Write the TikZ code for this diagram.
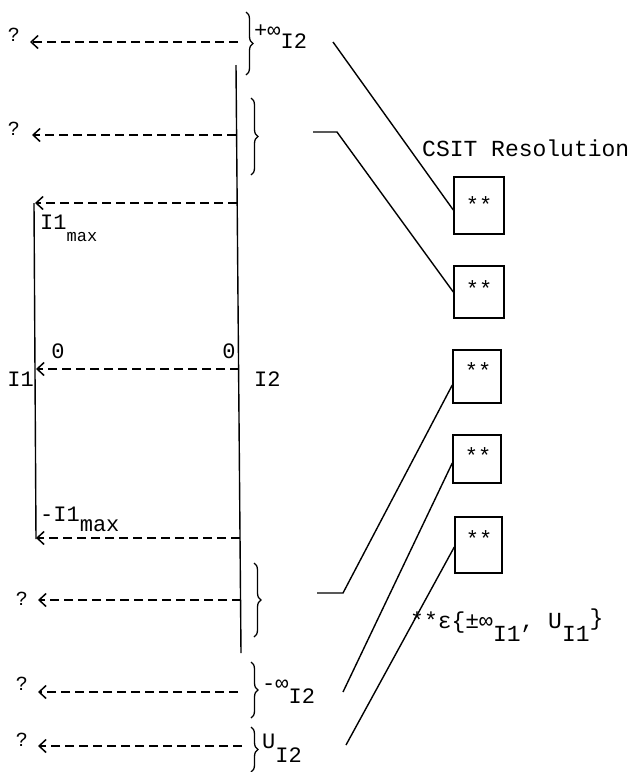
\documentclass[tikz,border=0pt]{standalone}
\usepackage{fontspec}
\setmainfont{Liberation Mono}
\usetikzlibrary{arrows.meta,decorations.pathreplacing}
\begin{document}
\begin{tikzpicture}[x=1pt,y=-1pt,
  lbl/.style={font=\fontsize{22}{24}\selectfont, inner sep=0pt},
  big/.style={font=\fontsize{23}{26}\selectfont, inner sep=0pt},
  qm/.style={font=\fontsize{20}{22}\selectfont, inner sep=0pt, anchor=base},
  dasharrow/.style={dash pattern=on 9pt off 5pt, line width=1.3pt, -{Straight Barb[length=7pt,width=13pt,line width=1.5pt]}},
  solidline/.style={line width=1.4pt},
  bx/.style={draw, line width=1.4pt, inner sep=0pt},
  br/.style={decorate, decoration={brace, amplitude=7pt}, line width=1.3pt}
]
\useasboundingbox (0,0) rectangle (636,772);

% axes
\coordinate (i2top) at (236,65);
\coordinate (i2bot) at (241,653);
\draw[solidline] (i2top) -- (i2bot);
\coordinate (i1top) at (34,203);
\coordinate (i1bot) at (36,539);
\draw[solidline] (i1top) -- (i1bot);

% dashed arrows
\coordinate (a1s) at (238,42);  \coordinate (a1e) at (30,42);
\coordinate (a2s) at (236,135); \coordinate (a2e) at (32,135);
\coordinate (a3s) at (237,203); \coordinate (a3e) at (35,203);
\coordinate (a4s) at (239,369); \coordinate (a4e) at (36,369);
\coordinate (a5s) at (240,538); \coordinate (a5e) at (36,538);
\coordinate (a6s) at (241,600); \coordinate (a6e) at (38,600);
\coordinate (a7s) at (238,692); \coordinate (a7e) at (38,692);
\coordinate (a8s) at (242,746); \coordinate (a8e) at (38,746);
\foreach \i in {1,...,8} {\draw[dasharrow] (a\i s) -- (a\i e);}

% question marks
\node[qm] (q1) at (14,41) {?};
\node[qm] (q2) at (14,135) {?};
\node[qm] (q3) at (22,605) {?};
\node[qm] (q4) at (22,690) {?};
\node[qm] (q5) at (22,746) {?};

% braces
\coordinate (bAt) at (246,12);  \coordinate (bAb) at (246,75);
\coordinate (bBt) at (251,98);  \coordinate (bBb) at (251,175);
\coordinate (bCt) at (254,563); \coordinate (bCb) at (254,637);
\coordinate (bDt) at (251,662); \coordinate (bDb) at (251,718);
\coordinate (bEt) at (251,727); \coordinate (bEb) at (251,772);
\foreach \b in {A,B,C,D,E} {\draw[br] (b\b t) -- (b\b b);}

% axis labels
\node[lbl, anchor=base west] (pinf) at (254,48) {\raisebox{11pt}{+∞}I2};
\node[lbl, anchor=base west] (ninf) at (262,703) {\raisebox{13pt}{-∞}I2};
\node[lbl, anchor=base west] (ui2) at (262,748) {U\raisebox{-14pt}{I2}};
\node[lbl, anchor=base west] (i1max) at (40,229) {I1\raisebox{-12pt}{\fontsize{17}{20}\selectfont max}};
\node[lbl, anchor=base west] (mi1max) at (40,521) {-I1\raisebox{-10pt}{max}};
\node[lbl, anchor=base] (z1) at (58,358) {0};
\node[lbl, anchor=base] (z2) at (229,358) {0};
\node[lbl, anchor=base east] (li1) at (34,386) {I1};
\node[lbl, anchor=base west] (li2) at (254,386) {I2};

% boxes
\node[bx, minimum width=50pt, minimum height=57pt] (b1) at (479,205.5) {};
\node[bx, minimum width=50pt, minimum height=52pt] (b2) at (479,292) {};
\node[bx, minimum width=48pt, minimum height=53pt] (b3) at (477,376.5) {};
\node[bx, minimum width=48pt, minimum height=48pt] (b4) at (477,459) {};
\node[bx, minimum width=47pt, minimum height=56pt] (b5) at (478.5,545) {};
\node[lbl] (s1) at (479,205) {**};
\node[lbl] (s2) at (479,289) {**};
\node[lbl] (s3) at (478,371) {**};
\node[lbl] (s4) at (478,456) {**};
\node[lbl] (s5) at (479,539) {**};

\node[big, anchor=west] (csit) at (422,148) {CSIT Resolution};
\node[big, anchor=base west] (note) at (410,628) {**ε\{±∞\raisebox{-13pt}{I1}, U\raisebox{-13pt}{I1}\raisebox{3pt}{\}}};

% connectors
\coordinate (cA) at (333,42);
\coordinate (cB1) at (313,132); \coordinate (cB2) at (337,132);
\coordinate (cC1) at (317,593); \coordinate (cC2) at (343,593);
\coordinate (cD) at (343,692);
\coordinate (cE) at (346,745);
\draw[solidline] (cA) -- ([yshift=-4.5pt]b1.west);
\draw[solidline] (cB1) -- (cB2) -- (b2.west);
\draw[solidline] (cC1) -- (cC2) -- ([yshift=-8.5pt]b3.west);
\draw[solidline] (cD) -- ([yshift=-4pt]b4.west);
\draw[solidline] (cE) -- ([yshift=-2pt]b5.west);
\end{tikzpicture}
\end{document}
